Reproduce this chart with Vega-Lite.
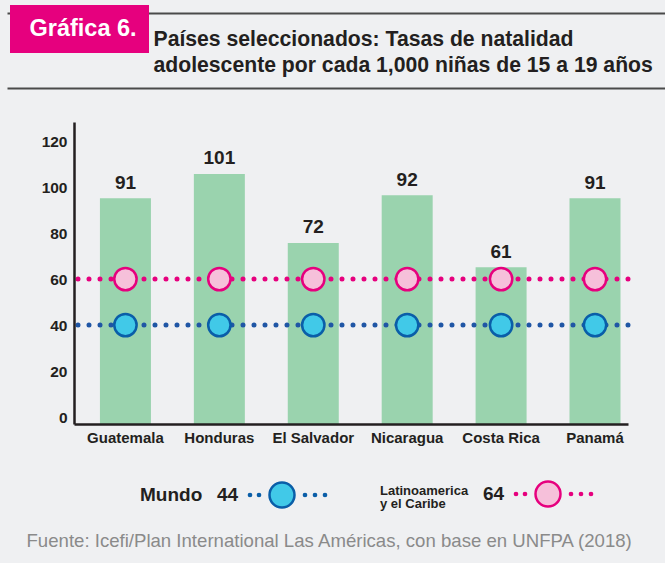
{
  "$schema": "https://vega.github.io/schema/vega-lite/v6.json",
  "width": 554,
  "height": 302,
  "autosize": {"type": "none"},
  "padding": {"left": 74, "top": 122, "right": 37, "bottom": 139},
  "background": "#eff0f2",
  "config": {"view": {"stroke": null}, "font": "Liberation Sans"},
  "datasets": {
    "paises": [
      {"pais": "Guatemala", "tasa": 91, "altura": 95.1},
      {"pais": "Honduras", "tasa": 101, "altura": 105.7},
      {"pais": "El Salvador", "tasa": 72, "altura": 75.7},
      {"pais": "Nicaragua", "tasa": 92, "altura": 96.5},
      {"pais": "Costa Rica", "tasa": 61, "altura": 65.2},
      {"pais": "Panamá", "tasa": 91, "altura": 95.2}
    ],
    "referencias": [
      {"grupo": "Mundo", "tasa": 44, "nivel": 40},
      {"grupo": "Latinoamerica y el Caribe", "tasa": 64, "nivel": 60}
    ],
    "puntos": [
      {"pais": "Guatemala", "grupo": "Mundo", "tasa": 44, "nivel": 40},
      {"pais": "Honduras", "grupo": "Mundo", "tasa": 44, "nivel": 40},
      {"pais": "El Salvador", "grupo": "Mundo", "tasa": 44, "nivel": 40},
      {"pais": "Nicaragua", "grupo": "Mundo", "tasa": 44, "nivel": 40},
      {"pais": "Costa Rica", "grupo": "Mundo", "tasa": 44, "nivel": 40},
      {"pais": "Panamá", "grupo": "Mundo", "tasa": 44, "nivel": 40},
      {"pais": "Guatemala", "grupo": "Latinoamerica y el Caribe", "tasa": 64, "nivel": 60},
      {"pais": "Honduras", "grupo": "Latinoamerica y el Caribe", "tasa": 64, "nivel": 60},
      {"pais": "El Salvador", "grupo": "Latinoamerica y el Caribe", "tasa": 64, "nivel": 60},
      {"pais": "Nicaragua", "grupo": "Latinoamerica y el Caribe", "tasa": 64, "nivel": 60},
      {"pais": "Costa Rica", "grupo": "Latinoamerica y el Caribe", "tasa": 64, "nivel": 60},
      {"pais": "Panamá", "grupo": "Latinoamerica y el Caribe", "tasa": 64, "nivel": 60}
    ]
  },
  "layer": [
    {
      "data": {"name": "paises"},
      "mark": {"type": "bar", "color": "#9ad3ae"},
      "encoding": {
        "x": {
          "field": "pais", "type": "nominal", "sort": null,
          "scale": {"paddingInner": 0.457, "paddingOuter": 0.178, "align": 0.776},
          "axis": {
            "orient": "bottom", "labelAngle": 0,
            "labelFont": "Liberation Sans", "labelFontSize": 15, "labelFontWeight": "bold", "labelColor": "#231f20",
            "labelPadding": 6, "ticks": false,
            "domainColor": "#231f20", "domainWidth": 2.5, "zindex": 1,
            "title": "Fuente: Icefi/Plan International Las Américas, con base en UNFPA (2018)",
            "titleX": -48, "titleY": 116, "titleAlign": "left", "titleAnchor": "start", "titleBaseline": "middle",
            "titleFont": "Liberation Sans", "titleFontSize": 18.6, "titleFontWeight": "normal", "titleColor": "#8a8a8a"
          }
        },
        "y": {
          "field": "altura", "type": "quantitative",
          "scale": {"domain": [-3, 128.3], "nice": false, "zero": false},
          "axis": {
            "orient": "right", "values": [128.2, 95.6], "tickOffset": -109, "offset": 37,
            "tickSize": -658, "tickWidth": 2, "tickColor": "#4a4a4a", "ticks": true,
            "labels": false, "domain": false, "grid": false, "title": null, "zindex": 0
          }
        },
        "y2": {"datum": -3},
        "opacity": {
          "datum": "Gráfica 6.", "type": "ordinal",
          "scale": {"range": [1]},
          "legend": {
            "orient": "none", "legendX": -64, "legendY": -117, "title": null,
            "fillColor": "#e6007e", "padding": 12, "cornerRadius": 0,
            "symbolType": "circle", "symbolSize": 0, "symbolOpacity": 0, "symbolStrokeWidth": 0,
            "labelOffset": -16, "labelFont": "Liberation Sans", "labelFontSize": 23.5, "labelFontWeight": "bold",
            "labelColor": "#ffffff", "zindex": 2
          }
        }
      }
    },
    {
      "layer": [
        {
          "data": {"name": "paises"},
          "mark": {"type": "text", "baseline": "alphabetic", "dy": -9.5, "fontSize": 19, "fontWeight": "bold", "color": "#231f20", "font": "Liberation Sans"},
          "encoding": {
            "x": {"field": "pais", "type": "nominal", "sort": null},
            "y": {
              "field": "altura", "type": "quantitative",
              "axis": {
                "orient": "left", "values": [0, 20, 40, 60, 80, 100, 120], "ticks": false, "labelPadding": 7,
                "labelFont": "Liberation Sans", "labelFontSize": 15.5, "labelFontWeight": "bold", "labelColor": "#231f20",
                "domainColor": "#231f20", "domainWidth": 2.5, "grid": false, "zindex": 1,
                "title": ["Países seleccionados: Tasas de natalidad", "adolescente por cada 1,000 niñas de 15 a 19 años"],
                "titleAngle": 0, "titleAlign": "left", "titleBaseline": "alphabetic", "titleX": 79, "titleY": -77,
                "titleFont": "Liberation Sans", "titleFontSize": 21.2, "titleFontWeight": "bold", "titleColor": "#231f20",
                "titleLineHeight": 26
              }
            },
            "text": {"field": "tasa", "type": "quantitative"}
          }
        },
        {
          "data": {"name": "referencias"},
          "mark": {"type": "rule", "strokeWidth": 5, "strokeDash": [0, 11], "strokeCap": "round"},
          "encoding": {
            "y": {"field": "nivel", "type": "quantitative"},
            "color": {
              "field": "grupo", "type": "nominal",
              "scale": {"domain": ["Mundo", "Latinoamerica y el Caribe"], "range": ["#1f56a5", "#e6007e"]},
              "legend": null
            }
          }
        },
        {
          "data": {"name": "puntos"},
          "transform": [{"filter": "datum.grupo === 'Mundo'"}],
          "mark": {"type": "point", "shape": "circle", "filled": true, "size": 500, "stroke": "#0a5ea8", "strokeWidth": 2.5, "opacity": 1},
          "encoding": {
            "x": {"field": "pais", "type": "nominal", "sort": null},
            "y": {"field": "nivel", "type": "quantitative"},
            "fill": {
              "field": "tasa", "type": "nominal",
              "scale": {"domain": [44], "range": ["#41c9e8"]},
              "legend": {
                "orient": "none", "legendX": 66, "legendY": 363.5, "padding": 0,
                "title": "Mundo", "titleOrient": "left", "titlePadding": 6, "titleBaseline": "top", "titleAnchor": "start",
                "titleFont": "Liberation Sans", "titleFontSize": 19, "titleFontWeight": "bold", "titleColor": "#231f20",
                "labelFont": "Liberation Sans", "labelFontSize": 19, "labelFontWeight": "bold", "labelColor": "#231f20",
                "labelOffset": -11,
                "symbolType": "m 30.4 0 a 1.1 1.1 0 1 0 2.2 0 a 1.1 1.1 0 1 0 -2.2 0 z m 9 0 a 1.1 1.1 0 1 0 2.2 0 a 1.1 1.1 0 1 0 -2.2 0 z m 11.6 0 a 12.5 12.5 0 1 0 25 0 a 12.5 12.5 0 1 0 -25 0 z m 34.4 0 a 1.1 1.1 0 1 0 2.2 0 a 1.1 1.1 0 1 0 -2.2 0 z m 10 0 a 1.1 1.1 0 1 0 2.2 0 a 1.1 1.1 0 1 0 -2.2 0 z m 10 0 a 1.1 1.1 0 1 0 2.2 0 a 1.1 1.1 0 1 0 -2.2 0 z",
                "symbolSize": 4, "symbolStrokeWidth": 2.5, "symbolStrokeColor": "#0a5ea8",
                "encode": {"symbols": {"update": {"stroke": {"value": "#0a5ea8"}, "strokeWidth": {"value": 2.5}, "opacity": {"value": 1}}}}
              }
            }
          }
        },
        {
          "data": {"name": "puntos"},
          "transform": [{"filter": "datum.grupo !== 'Mundo'"}],
          "mark": {"type": "point", "shape": "circle", "filled": true, "fill": "#f6c0da", "size": 500, "strokeWidth": 2.5, "opacity": 1},
          "encoding": {
            "x": {"field": "pais", "type": "nominal", "sort": null},
            "y": {"field": "nivel", "type": "quantitative"},
            "stroke": {
              "field": "tasa", "type": "nominal",
              "scale": {"domain": [64], "range": ["#e6007e"]},
              "legend": {
                "orient": "none", "legendX": 306, "legendY": 362.5, "padding": 0,
                "title": ["Latinoamerica", "y el Caribe"], "titleOrient": "left", "titlePadding": 6, "titleBaseline": "top", "titleAnchor": "start",
                "titleFont": "Liberation Sans", "titleFontSize": 13, "titleFontWeight": "bold", "titleColor": "#231f20", "titleLineHeight": 13.5,
                "labelFont": "Liberation Sans", "labelFontSize": 19, "labelFontWeight": "bold", "labelColor": "#231f20",
                "labelOffset": -11,
                "symbolType": "m 30.4 0 a 1.1 1.1 0 1 0 2.2 0 a 1.1 1.1 0 1 0 -2.2 0 z m 9 0 a 1.1 1.1 0 1 0 2.2 0 a 1.1 1.1 0 1 0 -2.2 0 z m 11.6 0 a 12.5 12.5 0 1 0 25 0 a 12.5 12.5 0 1 0 -25 0 z m 34.4 0 a 1.1 1.1 0 1 0 2.2 0 a 1.1 1.1 0 1 0 -2.2 0 z m 10 0 a 1.1 1.1 0 1 0 2.2 0 a 1.1 1.1 0 1 0 -2.2 0 z m 10 0 a 1.1 1.1 0 1 0 2.2 0 a 1.1 1.1 0 1 0 -2.2 0 z",
                "symbolSize": 4, "symbolStrokeWidth": 2.5, "symbolFillColor": "#f6c0da",
                "encode": {"symbols": {"update": {"fill": {"value": "#f6c0da"}, "strokeWidth": {"value": 2.5}, "opacity": {"value": 1}}}}
              }
            }
          }
        }
      ]
    }
  ],
  "resolve": {"axis": {"y": "independent"}}
}
